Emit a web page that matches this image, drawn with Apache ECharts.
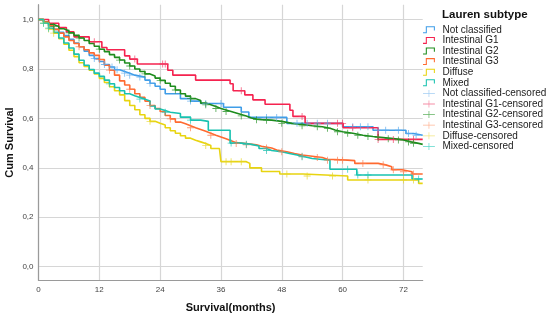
<!DOCTYPE html>
<html>
<head>
<meta charset="utf-8">
<script src="https://cdn.jsdelivr.net/npm/echarts@6/dist/echarts.min.js"></script>
<style>
html,body{margin:0;padding:0;background:#fff;}
#chart{width:550px;height:317px;}
</style>
</head>
<body>
<div id="chart"></div>
<script>
// Kaplan-Meier steps, [month, cum survival]
var notClassified = [[0,1],[1,0.99],[2,0.975],[3,0.96],[4,0.948],[5,0.935],[6,0.92],[7,0.905],[8,0.89],[9,0.872],[10,0.855],[11,0.842],[12,0.83],[13,0.818],[14,0.808],[15,0.797],[16,0.79],[17,0.783],[18,0.775],[19,0.767],[21,0.755],[22,0.742],[23,0.73],[24,0.718],[25,0.70],[28,0.68],[30,0.67],[32,0.66],[36.5,0.645],[40,0.626],[41.5,0.604],[49,0.58],[60,0.566],[66,0.552],[72.5,0.539],[74,0.532],[75.8,0.532]];
var intestinalG1 = [[0,1],[2,0.985],[4,0.968],[5.5,0.95],[7,0.93],[10,0.91],[12.5,0.887],[13.5,0.878],[17,0.853],[18,0.84],[19.5,0.82],[25.5,0.795],[26.5,0.775],[31,0.755],[37.8,0.74],[38.4,0.712],[40.7,0.695],[42.3,0.675],[44.7,0.657],[49.6,0.633],[50.2,0.608],[52.6,0.58],[60.1,0.562],[67,0.515],[75.8,0.515]];
var intestinalG2 = [[0,1],[1,0.99],[2,0.98],[3,0.972],[4,0.963],[5,0.955],[6,0.946],[7,0.936],[8,0.925],[9,0.915],[10,0.903],[11,0.892],[12,0.88],[13,0.87],[14,0.858],[15,0.847],[16,0.836],[17,0.824],[18,0.812],[19,0.80],[20,0.79],[21,0.78],[22,0.772],[23,0.763],[24,0.754],[25,0.742],[26,0.73],[27,0.715],[28,0.70],[29,0.69],[30,0.68],[31,0.672],[32,0.662],[33,0.655],[34,0.648],[35,0.64],[36,0.634],[37,0.628],[38,0.622],[39,0.616],[40,0.61],[41,0.602],[42,0.597],[43,0.595],[44,0.593],[46,0.588],[48,0.58],[50,0.575],[52,0.57],[54,0.566],[56,0.56],[57.5,0.553],[58.5,0.546],[60,0.54],[62,0.532],[64,0.527],[66,0.523],[68,0.518],[70,0.513],[72,0.505],[73.5,0.499],[75,0.495],[75.8,0.495]];
var intestinalG3 = [[0,1],[1,0.99],[2,0.975],[3,0.96],[4,0.945],[5,0.93],[6,0.915],[7,0.903],[8,0.89],[9,0.878],[10,0.865],[11,0.855],[12,0.838],[13,0.815],[14,0.795],[15,0.775],[16,0.752],[17,0.735],[18,0.718],[19,0.70],[20,0.685],[21,0.67],[22,0.652],[23,0.64],[24,0.628],[25,0.612],[26,0.598],[27,0.585],[28,0.578],[29,0.57],[30,0.562],[31,0.555],[32,0.548],[33,0.54],[34,0.532],[35,0.525],[36,0.518],[37,0.51],[38,0.502],[39,0.498],[41,0.493],[43,0.487],[44,0.48],[46,0.472],[47,0.465],[49,0.458],[50.5,0.452],[52,0.447],[54,0.442],[56,0.435],[57,0.431],[61,0.429],[62.4,0.418],[67,0.412],[68.5,0.404],[69.7,0.392],[71.7,0.384],[73.7,0.375],[75.8,0.375]];
var diffuse = [[0,1],[1,0.985],[2,0.962],[3,0.945],[4,0.922],[5,0.9],[6,0.876],[7,0.85],[8,0.825],[9,0.81],[10,0.795],[11,0.78],[12,0.762],[13,0.745],[14,0.728],[15,0.712],[16,0.695],[17,0.672],[18,0.652],[19,0.635],[20,0.615],[21,0.60],[22,0.588],[23,0.58],[24,0.573],[25,0.562],[26,0.55],[27,0.54],[28,0.53],[29,0.52],[30,0.512],[31,0.505],[32,0.498],[33,0.49],[34,0.478],[35.7,0.47],[36,0.425],[41,0.418],[41.7,0.40],[44,0.385],[47.6,0.375],[52.2,0.367],[61,0.351],[75,0.337],[75.8,0.337]];
var mixed = [[0,1],[1,0.985],[2,0.965],[3,0.948],[4,0.925],[5,0.905],[6,0.885],[7,0.86],[8,0.835],[9,0.815],[10,0.798],[11,0.783],[12,0.77],[13,0.755],[14,0.74],[15,0.725],[16,0.712],[17,0.70],[18,0.692],[19,0.685],[20,0.678],[21,0.67],[22,0.65],[23,0.638],[24,0.632],[25,0.625],[26,0.62],[28,0.605],[30,0.593],[32,0.588],[33.5,0.552],[37.8,0.50],[40,0.495],[42,0.488],[43.5,0.478],[45,0.47],[46,0.465],[48,0.458],[49.5,0.452],[51,0.445],[52.5,0.438],[54,0.434],[56,0.431],[57.5,0.394],[62.8,0.371],[73.7,0.355],[75.8,0.355]];

// censored times (months)
var censNotClassified = [11,13,14.5,15.5,17,18,20,22,30,33,36,45,47,51,53,55,57,62,63.5,65,67,68.5,71,73,74.5];
var censG1 = [11,19,24.5,25,40,52,59,60,62,67,70,74];
var censG2 = [3,6,8,12,16,18,21,24,27,30,33,35,37,40,43,45,48,52,55,57,59,61,63,65,67,69,71,73,74];
var censG3 = [8,12,14,18,22,26,30,34,39,41,45,48,52,55,57,59,60,64,68,70,72,74];
var censDiffuse = [1,2,3,22,33,37,38,40,49,53,58,65,72,74];
var censMixed = [1,2,14,20,25,30,38,41,45,52,61,63,65,75];

var groupNames = ['Not classified','Intestinal G1','Intestinal G2','Intestinal G3','Diffuse','Mixed'];
var lineColors = ['#3f9de8','#f5234f','#1d8c1d','#ff6a30','#e8d410','#18c2b0'];
var censColors = ['#5aaaee','#f23c64','#2a952a','#ff8050','#e6d628','#22c6b6'];
var censLegendColors = ['#8cc2f0','#f27090','#3a9f3a','#ffa27c','#eedd60','#30cdbd'];

var curves = [notClassified,intestinalG1,intestinalG2,intestinalG3,diffuse,mixed];
var censored = [censNotClassified,censG1,censG2,censG3,censDiffuse,censMixed];

var stepIcon = 'path://M0,8.5H4V0H17V6H15.5V1.5H5.5V10H0Z';
var plusLegendIcon = 'path://M0,4.4H8V0H9V4.4H17V5.6H9V10H8V5.6H0Z';
var plusMark = 'path://M4.4,0H5.6V4.4H10V5.6H5.6V10H4.4V5.6H0V4.4H4.4Z';

function survAt(curve,t){
	var s = curve[0][1];
	for(var i=0;i<curve.length;i++){
		if(curve[i][0]<=t) s = curve[i][1];
	}
	return s;
}

var series = [];
var legendData = [];
for(var i=0;i<groupNames.length;i++){
	series.push({
		name:groupNames[i],
		type:'line',
		step:'end',
		showSymbol:false,
		silent:true,
		color:lineColors[i],
		itemStyle:{color:lineColors[i]},
		lineStyle:{width:1.6,color:lineColors[i]},
		data:curves[i],
		z:2
	});
	legendData.push({name:groupNames[i],icon:stepIcon,itemStyle:{color:lineColors[i],borderWidth:0}});
}
for(var i=0;i<groupNames.length;i++){
	var pts = [];
	for(var j=0;j<censored[i].length;j++){
		pts.push([censored[i][j],survAt(curves[i],censored[i][j])]);
	}
	series.push({
		name:groupNames[i]+'-censored',
		type:'scatter',
		symbol:plusMark,
		symbolSize:7,
		silent:true,
		color:censColors[i],
		itemStyle:{color:censColors[i]},
		data:pts,
		z:3
	});
	legendData.push({name:groupNames[i]+'-censored',icon:plusLegendIcon,itemStyle:{color:censLegendColors[i],borderWidth:0}});
}

var myChart = echarts.init(document.getElementById('chart'));
var option = {
	animation:false,
	backgroundColor:'#fff',
	textStyle:{fontFamily:'Liberation Sans, Arial, sans-serif'},
	title:{
		text:'Lauren subtype',
		left:442,
		top:9,
		padding:0,
		textStyle:{fontSize:11.5,fontWeight:'bold',color:'#111',fontFamily:'Liberation Sans, Arial, sans-serif'}
	},
	legend:{
		orient:'vertical',
		left:423,
		top:24.5,
		padding:0,
		itemWidth:17,
		itemHeight:7,
		itemGap:0,
		selectedMode:false,
		textStyle:{fontSize:10,color:'#222',lineHeight:10.6},
		data:legendData
	},
	grid:{left:38.5,right:127.3,top:4.7,bottom:36.7,containLabel:false,outerBoundsMode:'none'},
	xAxis:{
		type:'value',
		min:0,
		max:75.8,
		interval:12,
		name:'Survival(months)',
		nameLocation:'middle',
		nameGap:22,
		nameMoveOverlap:false,
		nameTextStyle:{fontSize:11,fontWeight:'bold',color:'#111'},
		axisLine:{show:true,onZero:false,lineStyle:{color:'#9a9a9a',width:1.2}},
		axisTick:{show:false},
		axisLabel:{fontSize:8,color:'#444',margin:5,showMaxLabel:false},
		splitLine:{show:true,showMaxLine:false,lineStyle:{color:'#d6d6d6',width:1.2}}
	},
	yAxis:{
		type:'value',
		min:-0.055,
		max:1.06,
		splitNumber:5,
		name:'Cum Survival',
		nameLocation:'middle',
		nameGap:23,
		nameMoveOverlap:false,
		nameTextStyle:{fontSize:11,fontWeight:'bold',color:'#111'},
		axisLine:{show:true,onZero:false,lineStyle:{color:'#9a9a9a',width:1.2}},
		axisTick:{show:false},
		axisLabel:{
			fontSize:8,color:'#444',margin:5,showMinLabel:false,showMaxLabel:false,
			formatter:function(v){
				var k = v/0.2;
				if(Math.abs(k-Math.round(k))>1e-6) return '';
				return v.toFixed(1).replace('.',',');
			}
		},
		splitLine:{show:true,showMinLine:false,showMaxLine:false,lineStyle:{color:'#d6d6d6',width:1.2}}
	},
	series:series
};
myChart.setOption(option);
</script>
</body>
</html>
